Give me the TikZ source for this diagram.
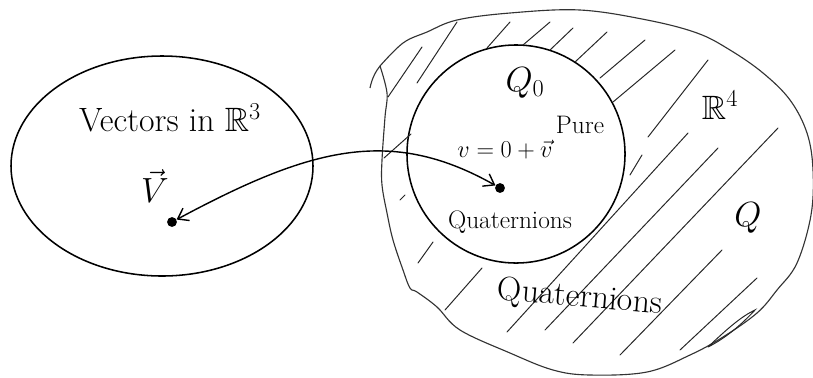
\documentclass[tikz,border=0pt]{standalone}
\usepackage{amsmath,amssymb}
\usetikzlibrary{arrows.meta}
\tikzset{
	dotv/.style={circle,fill=black,inner sep=0pt,minimum size=7pt},
	region/.style={draw=black,line width=1.1pt},
	blob/.style={draw=black!80,line width=0.8pt},
	hatch/.style={draw=black!85,line width=0.7pt,line cap=round},
	lbl/.style={inner sep=0pt,font=\fontsize{24}{28}\selectfont},
	small/.style={inner sep=0pt,font=\fontsize{18}{22}\selectfont},
	arr/.style={{Straight Barb[length=7pt,width=10pt]}-{Straight Barb[length=7pt,width=10pt]},line width=1pt},
}

\begin{document}
\begin{tikzpicture}[x=0.025cm,y=-0.025cm]
	\useasboundingbox (0,0) rectangle (813,377);
	% vectors in R^3
	\draw[region] (162,166) ellipse [x radius=151,y radius=110];
	% R^4 blob
	\draw[blob] plot[smooth,tension=0.6] coordinates {(380,66) (403,43) (427,32) (457,20) (510,13) (580,10) (647,20) (697,33) (730,50) (763,73) (790,100) (807,133) (813,170) (811,215) (797,263) (777,290) (757,313) (723,337) (690,355) (647,372) (590,375) (553,370) (510,353) (460,330) (437,307) (417,292) (410,288) (403,270) (393,240) (387,213) (382,185) (382,160) (385,117) (387,93) (380,66)};
	\draw[blob] (370,88) .. controls (372,78) and (376,71) .. (380,66);
	% pure quaternions
	\node[region,circle,minimum size=5.45cm,inner sep=0pt] (qzero) at (516,154) {};
	% hatching
	\foreach \xa/\ya/\xb/\yb in {388/97/422/47,417/83/457/22,487/48/510/22,523/45/550/22,
		550/50/573/28,575/62/607/32,600/78/645/40,613/102/675/50,648/137/708/60,
		630/175/642/155,507/332/688/133,545/330/718/148,573/343/778/128,
		620/355/722/250,680/350/757/278,384/158/411/134,400/200/405/195,
		418/263/433/242,445/310/482/268}
	\draw[hatch] (\xa,\ya) -- (\xb,\yb);
	\draw[hatch] (708,347) .. controls (728,328) and (742,316) .. (755,310) .. controls (742,324) and (726,338) .. (708,347);
	% labels
	\node[lbl] (rthree) at (170,118) {Vectors in $\mathbb{R}^3$};
	\node[lbl] (vlbl) at (155,186) {$\vec{V}$};
	\node[lbl] (qzlbl) at (525,83) {$Q_0$};
	\node[small] (purelbl) at (580,125) {Pure};
	\node[small] (vdef) at (505,150) {$v = 0+\vec{v}$};
	\node[small] (qinner) at (510,222) {Quaternions};
	\node[lbl] (rfour) at (720,105) {$\mathbb{R}^4$};
	\node[inner sep=0pt,font=\fontsize{32}{36}\selectfont] (qbig) at (748,218) {$Q$};
	\node[lbl,rotate=-5] (qouter) at (580,298) {Quaternions};
	% points and the map
	\node[dotv] (vdot) at (172,222) {};
	\node[dotv] (qdot) at (500,188) {};
	\draw[arr] (vdot) .. controls (310,148) and (390,126) .. (qdot);
\end{tikzpicture}
\end{document}
